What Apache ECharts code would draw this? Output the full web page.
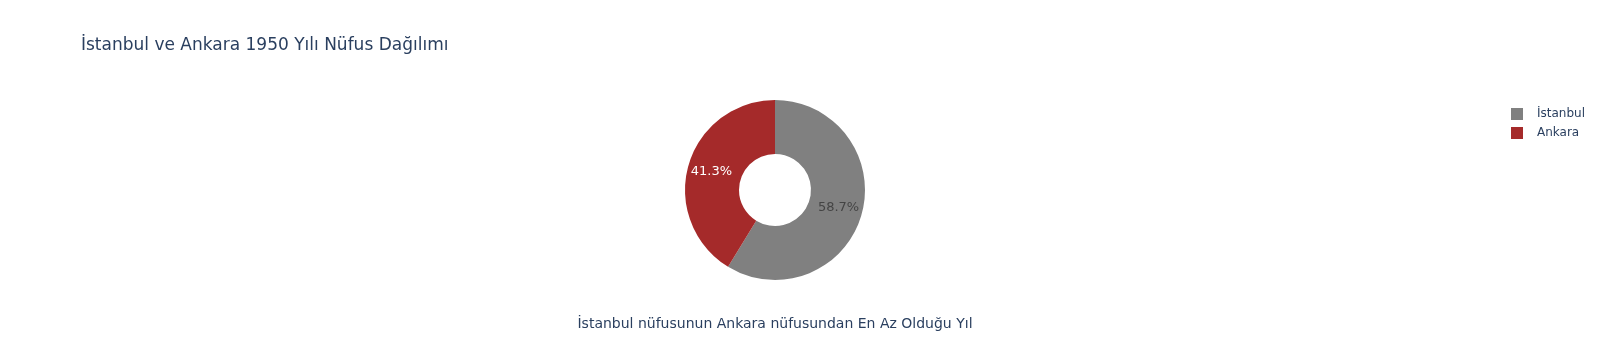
<!DOCTYPE html>
<html>
<head>
<meta charset="utf-8">
<script src="https://cdn.jsdelivr.net/npm/echarts@6/dist/echarts.min.js"></script>
<style>
html,body{margin:0;padding:0;background:#fff;}
#chart{width:1605px;height:360px;}
</style>
</head>
<body>
<div id="chart"></div>
<script>
const titleText = 'İstanbul ve Ankara 1950 Yılı Nüfus Dağılımı';
const annotationText = 'İstanbul nüfusunun Ankara nüfusundan En Az Olduğu Yıl';
const categories = ['İstanbul', 'Ankara'];
const populations = [1166477, 819693];
const colors = ['#808080', '#a52a2a'];
const labelColors = ['#444444', '#ffffff'];

const FONT = '"DejaVu Sans", Verdana, sans-serif';
const chart = echarts.init(document.getElementById('chart'));
chart.setOption({
  animation: false,
  backgroundColor: '#ffffff',
  textStyle: { fontFamily: FONT },
  title: {
    text: titleText,
    left: 81, top: 37, padding: 0,
    textStyle: { fontFamily: FONT, fontSize: 17, fontWeight: 'normal', color: '#2a3f5f' }
  },
  legend: {
    orient: 'vertical',
    left: 1511, top: 108, padding: 0,
    itemWidth: 12, itemHeight: 12, itemGap: 7,
    icon: 'rect',
    data: categories,
    textStyle: { fontFamily: FONT, fontSize: 12, color: '#2a3f5f', padding: [0, 0, 0, 9] }
  },
  graphic: [{
    type: 'text',
    x: 775,
    y: 324,
    style: { text: annotationText, font: '14px ' + FONT, fill: '#2a3f5f', textAlign: 'center', textVerticalAlign: 'middle' }
  }],
  series: [{
    type: 'pie',
    center: [775, 190],
    radius: [36, 90],
    startAngle: 90,
    clockwise: true,
    avoidLabelOverlap: false,
    label: {
      show: true,
      position: 'inside',
      fontFamily: FONT,
      fontSize: 13,
      formatter: p => p.percent.toFixed(1) + '%'
    },
    labelLine: { show: false },
    emphasis: { disabled: true },
    data: categories.map((c, i) => ({
      name: c,
      value: populations[i],
      itemStyle: { color: colors[i] },
      label: { color: labelColors[i] }
    }))
  }]
});
</script>
</body>
</html>
